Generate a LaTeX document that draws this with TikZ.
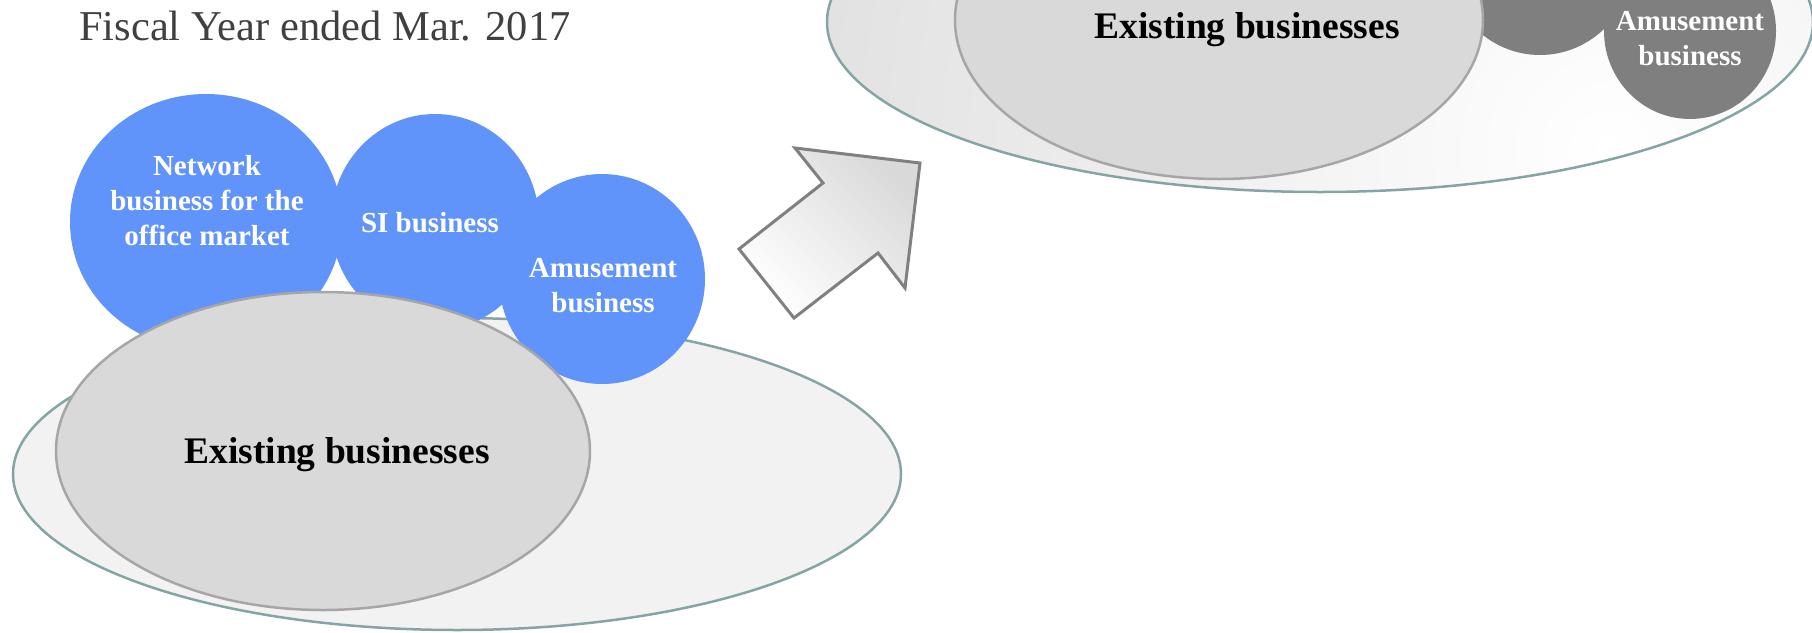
\documentclass[tikz,border=0pt]{standalone}
\usepackage{fontspec}
\setmainfont{Liberation Serif}
\definecolor{blueball}{RGB}{97,148,250}
\definecolor{darkball}{RGB}{127,127,127}
\definecolor{corefill}{RGB}{217,217,217}
\definecolor{coreedge}{RGB}{166,166,166}
\definecolor{rimedge}{RGB}{133,165,165}
\definecolor{rimfill}{RGB}{242,242,242}
\definecolor{rimshade}{RGB}{222,222,222}
\definecolor{titlegray}{RGB}{64,64,64}
\definecolor{arrowedge}{RGB}{128,128,128}
\tikzset{
  rim/.style={draw=rimedge, line width=2.5pt},
  core/.style={fill=corefill, draw=coreedge, line width=2.5pt},
  ballbox/.style={fill=blueball},
  darkbox/.style={fill=darkball},
  balltext/.style={text=white, align=center, anchor=base, inner sep=0pt,
    font=\fontsize{29}{35}\selectfont\bfseries},
  coretext/.style={text=black, anchor=base, inner sep=0pt,
    font=\fontsize{37.5}{44}\selectfont\bfseries},
}
\begin{document}
\begin{tikzpicture}[x=1pt, y=-1pt]
\useasboundingbox (0,0) rectangle (1812,632);

% heading
\node[anchor=base west, inner sep=0pt, text=titlegray,
      font=\fontsize{42.5}{50}\selectfont] (title) at (79,40) {Fiscal Year ended Mar. 2017};

% ---- left group: current businesses ----
\fill[rimfill] (457,474) ellipse (444pt and 156pt);
\draw[rim] (457,474) ellipse (444pt and 156pt);
\fill[ballbox] (206,222) ellipse (136pt and 128pt);
\fill[ballbox] (435,222) ellipse (104pt and 108pt);
\fill[ballbox] (602,279) ellipse (103pt and 105pt);
\draw[core] (323,451) ellipse (267pt and 159pt);

\node[balltext] (net) at (207,245) {Network\\business for the\\office market};
\node[balltext] (si) at (430,232) {SI business};
\node[balltext] (amuse) at (603,312) {Amusement\\business};
\node[coretext] (core) at (337,463) {Existing businesses};

% ---- block arrow ----
\path[shade, top color=rimshade!95!gray, bottom color=white, shading angle=-45,
      draw=arrowedge, line width=3pt, line join=miter]
  (795,148) -- (920,163) -- (905,288) -- (878,253) -- (794,318)
  -- (739,249) -- (823,183) -- cycle;

% ---- right group: future businesses ----
\begin{scope}
  \clip (1320,22) ellipse (493pt and 170pt);
  \fill[rimshade] (1320,22) ellipse (493pt and 170pt);
  \shade[inner color=white, outer color=rimshade] (1610,150) circle (900pt);
\end{scope}
\draw[rim] (1320,22) ellipse (493pt and 170pt);
\fill[darkbox] (1540,-42) ellipse (94pt and 97pt);
\fill[darkbox] (1690,31) ellipse (86pt and 88pt);
\draw[core] (1219,20) ellipse (264pt and 159pt);

\node[balltext] (amuse2) at (1690,65) {Amusement\\business};
\node[coretext] (core2) at (1247,38) {Existing businesses};
\end{tikzpicture}
\end{document}
